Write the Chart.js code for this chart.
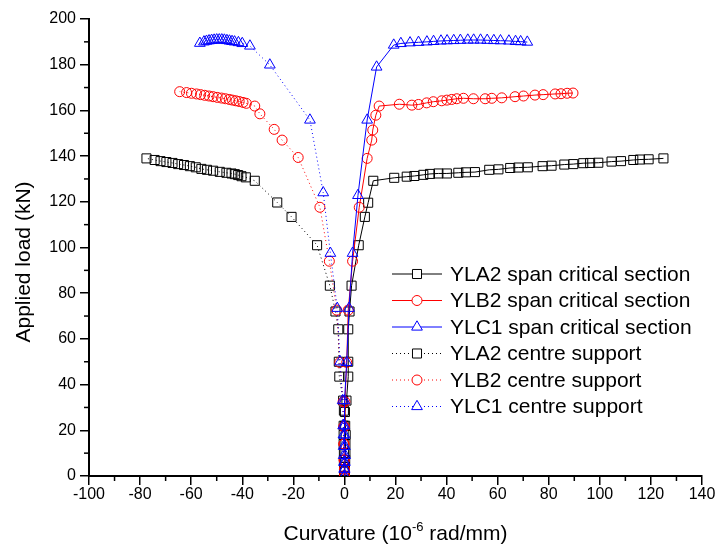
<!DOCTYPE html>
<html><head><meta charset="utf-8">
<script src="https://cdn.jsdelivr.net/npm/chart.js@4/dist/chart.umd.min.js"></script>
<style>html,body{margin:0;padding:0;background:#fff;}canvas{display:block;}</style>
</head><body>
<canvas id="c" width="721" height="554"></canvas>
<script>
// ---- data (curvature in 10^-6 rad/mm, load in kN) ----
const seriesNames = ['YLA2 span critical section','YLB2 span critical section','YLC1 span critical section',
                     'YLA2 centre support','YLB2 centre support','YLC1 centre support'];

const yla2SpanX = [0,0.1,0.2,0.3,0.4,0.4,0.5,0.3,0.2,0.8,1.5,1.5,1.5,2.0,2.8,5.6,8.0,9.3,11.3,19.5,24.4,27.4,30.9,33.5,36.8,40.1,44.6,47.6,51.1,56.7,60.3,64.9,68.1,71.8,77.6,81.1,86.1,89.6,93.5,96.2,99.4,104.6,108.3,113.1,115.7,119.1,124.9];
const yla2SpanY = [0,2,4,7,10,14,18,22,28,33,43.5,50,64.2,72,83.3,101,113.4,119.6,129.2,130.5,131,131.3,131.8,132.2,132.4,132.4,132.7,132.9,133,134,134.2,134.8,135,135.1,135.6,135.8,136.3,136.5,136.9,137,137.1,137.6,137.8,138.3,138.5,138.6,139];

const ylb2SpanX = [0,0,-0.1,-0.2,0,0.2,0.9,1.5,3.2,5.8,8.9,10.7,11.1,12.3,13.6,21.5,26.4,29.0,32.2,34.8,38.1,40.1,42.0,44.0,46.6,50.5,55.1,57.7,61.6,66.8,70.1,74.6,77.8,82.5,84.8,87.2,89.5];
const ylb2SpanY = [0,3,7,14,21.6,32.5,49.7,72.6,94,117.6,139,147,151.4,157.9,161.9,162.7,162.3,162.6,163.3,163.8,164.2,164.5,164.8,165.1,165.3,165.1,165.1,165.3,165.5,166.0,166.3,166.7,166.9,167.2,167.3,167.5,167.6];

const ylc1SpanX = [0,0.1,0.2,0.3,0.2,0.1,0,0,0.9,1.8,3.2,5.3,8.9,12.6,19.3,22.1,25.7,29.0,32.3,34.9,37.8,40.2,42.8,45.4,48.3,50.6,53.3,55.9,58.5,61.1,64.4,67.0,69.0,71.6];
const ylc1SpanY = [0,3,6,9,13,18,22,33,49.7,73.4,97.5,122.8,155.8,179,188.6,189.3,189.6,189.8,190,190.2,190.4,190.5,190.6,190.7,190.8,190.8,190.8,190.7,190.6,190.5,190.4,190.2,190.1,189.9];

const yla2SupX = [0,-0.1,-0.1,-0.2,-0.2,-0.3,-0.3,-0.3,-0.2,-0.5,-2.0,-2.2,-2.4,-3.5,-5.7,-10.7,-20.7,-26.3,-35.1,-38.6,-40.3,-41.6,-42.9,-44.2,-46.2,-48.8,-51.4,-53.8,-56.0,-58.2,-60.5,-62.8,-65.1,-67.3,-69.7,-72.0,-74.3,-77.5];
const yla2SupY = [0,2,4,7,10,14,18,22,28.6,33,43.5,50,64.2,72,83.3,101,113.4,119.7,129.2,130.7,131.2,131.7,132.1,132.4,132.7,133.1,133.6,134.0,134.4,135.1,135.6,136.1,136.5,137.0,137.4,137.8,138.3,139.0];

const ylb2SupX = [0,0,-0.1,-0.2,-0.3,-0.5,-1.8,-3.0,-5.9,-9.6,-18.1,-24.4,-27.5,-33.1,-35.1,-38.4,-39.7,-41.2,-42.5,-43.8,-45.1,-46.6,-48.1,-49.8,-51.4,-53.0,-54.7,-56.3,-57.9,-59.9,-61.8,-64.5];
const ylb2SupY = [0,3,7,14,21.6,32.5,49.7,72.6,94,117.6,139.4,147,151.7,158.5,161.9,163.1,163.5,163.9,164.2,164.5,164.8,165.1,165.4,165.7,166.0,166.3,166.6,166.9,167.2,167.5,167.8,168.2];

const ylc1SupX = [0,-0.1,-0.2,-0.3,-0.3,-0.4,-0.5,-0.7,-1.7,-2.8,-5.5,-8.3,-13.5,-29.2,-37.0,-40.0,-41.5,-43.0,-44.0,-45.0,-46.0,-47.0,-48.0,-49.0,-50.0,-51.0,-52.0,-53.0,-54.0,-55.0,-56.6];
const ylc1SupY = [0,3,6,9,13,18,22,33,50,73.4,97.5,124,155.8,179.9,188.2,189.3,189.7,190.0,190.2,190.4,190.6,190.8,190.9,190.9,190.9,190.8,190.7,190.5,190.3,190.0,189.4];

const xTickValues = [-100,-80,-60,-40,-20,0,20,40,60,80,100,120,140];
const yTickValues = [0,20,40,60,80,100,120,140,160,180,200];

// ---- build datasets ----
function pts(xs, ys){ return xs.map((x,i)=>({x:x, y:ys[i]})); }
const BLACK='#000000', RED='#ff0000', BLUE='#0000ff';
const styles = [
  {c:BLACK, p:'rect', r:6.4, dash:[], order:5},
  {c:RED, p:'circle', r:5, dash:[], order:3},
  {c:BLUE, p:'triangle', r:6.2, dash:[], order:1},
  {c:BLACK, p:'rect', r:6.4, dash:[1,3], order:6},
  {c:RED, p:'circle', r:5, dash:[1,3], order:4},
  {c:BLUE, p:'triangle', r:6.2, dash:[1,3], order:2}
];
const dataPairs = [[yla2SpanX,yla2SpanY],[ylb2SpanX,ylb2SpanY],[ylc1SpanX,ylc1SpanY],
                   [yla2SupX,yla2SupY],[ylb2SupX,ylb2SupY],[ylc1SupX,ylc1SupY]];
const datasets = dataPairs.map((d,i)=>({
  label: seriesNames[i],
  data: pts(d[0], d[1]),
  showLine: true,
  borderColor: styles[i].c,
  borderWidth: 1,
  borderDash: styles[i].dash,
  pointStyle: styles[i].p,
  pointRadius: styles[i].r,
  pointHoverRadius: styles[i].r,
  pointBorderColor: styles[i].c,
  pointBackgroundColor: 'rgba(0,0,0,0)',
  pointBorderWidth: 1,
  tension: 0,
  order: styles[i].order
}));

const FONT = '"Liberation Sans", Arial, Helvetica, sans-serif';

const extras = {
  id: 'extras',
  afterDraw(chart){
    const ctx = chart.ctx, a = chart.chartArea, xs = chart.scales.x, ys = chart.scales.y;
    ctx.save();
    // minor ticks
    ctx.strokeStyle = '#000'; ctx.lineWidth = 1.5;
    for (let v = -90; v < 140; v += 20){
      const px = xs.getPixelForValue(v);
      ctx.beginPath(); ctx.moveTo(px, a.bottom); ctx.lineTo(px, a.bottom + 5); ctx.stroke();
    }
    for (let v = 10; v < 200; v += 20){
      const py = ys.getPixelForValue(v);
      ctx.beginPath(); ctx.moveTo(a.left, py); ctx.lineTo(a.left - 5, py); ctx.stroke();
    }
    // axis titles
    ctx.fillStyle = '#000';
    ctx.textBaseline = 'alphabetic';
    const p1 = 'Curvature (10', sup = '-6', p2 = ' rad/mm)';
    ctx.font = '21px ' + FONT; const w1 = ctx.measureText(p1).width, w3 = ctx.measureText(p2).width;
    ctx.font = '13px ' + FONT; const w2 = ctx.measureText(sup).width;
    let x0 = (a.left + a.right)/2 - (w1 + w2 + w3)/2;
    const by = 540;
    ctx.textAlign = 'left';
    ctx.font = '21px ' + FONT; ctx.fillText(p1, x0, by);
    ctx.font = '13px ' + FONT; ctx.fillText(sup, x0 + w1, by - 9);
    ctx.font = '21px ' + FONT; ctx.fillText(p2, x0 + w1 + w2, by);
    ctx.save();
    ctx.translate(30, 262); ctx.rotate(-Math.PI/2);
    ctx.textAlign = 'center';
    ctx.fillText('Applied load (kN)', 0, 0);
    ctx.restore();
    // legend
    const rows = [274, 300.5, 327, 353.5, 380, 406.5];
    chart.data.datasets.forEach((ds, i) => {
      const y = rows[i];
      ctx.save();
      ctx.strokeStyle = ds.borderColor; ctx.lineWidth = 1;
      ctx.setLineDash(ds.borderDash);
      ctx.beginPath(); ctx.moveTo(392, y); ctx.lineTo(442, y); ctx.stroke();
      ctx.setLineDash([]);
      ctx.fillStyle = '#fff'; ctx.strokeStyle = ds.pointBorderColor;
      Chart.helpers.drawPoint(ctx, {pointStyle: ds.pointStyle, radius: ds.pointRadius, borderWidth: 1, rotation: 0}, 417, y);
      ctx.restore();
      ctx.fillStyle = '#000'; ctx.font = '21px ' + FONT;
      ctx.textAlign = 'left'; ctx.textBaseline = 'middle';
      ctx.fillText(ds.label, 450, y + 1);
    });
    ctx.restore();
  }
};

new Chart(document.getElementById('c'), {
  type: 'scatter',
  data: { datasets: datasets },
  options: {
    responsive: false,
    animation: false,
    devicePixelRatio: 1,
    layout: { padding: { left: 0, top: 19, right: 19, bottom: 0 } },
    plugins: { legend: { display: false }, tooltip: { enabled: false } },
    scales: {
      x: {
        type: 'linear', min: -100, max: 140,
        afterFit(s){ s.height = 78; },
        afterBuildTicks(s){ s.ticks = xTickValues.map(v=>({value:v})); },
        ticks: { color: '#000', font: { size: 16, family: FONT }, padding: 0, maxRotation: 0, autoSkip: false,
                 callback: v => String(v) },
        grid: { drawOnChartArea: false, drawTicks: true, tickLength: 9, color: '#000', lineWidth: 1.5 },
        border: { display: true, color: '#000', width: 2 }
      },
      y: {
        type: 'linear', min: 0, max: 200,
        afterFit(s){ s.width = 89; },
        afterBuildTicks(s){ s.ticks = yTickValues.map(v=>({value:v})); },
        ticks: { color: '#000', font: { size: 16, family: FONT }, padding: 4, autoSkip: false,
                 callback: v => String(v) },
        grid: { drawOnChartArea: false, drawTicks: true, tickLength: 9, color: '#000', lineWidth: 1.5 },
        border: { display: true, color: '#000', width: 2 }
      }
    }
  },
  plugins: [extras]
});
</script>
</body></html>
